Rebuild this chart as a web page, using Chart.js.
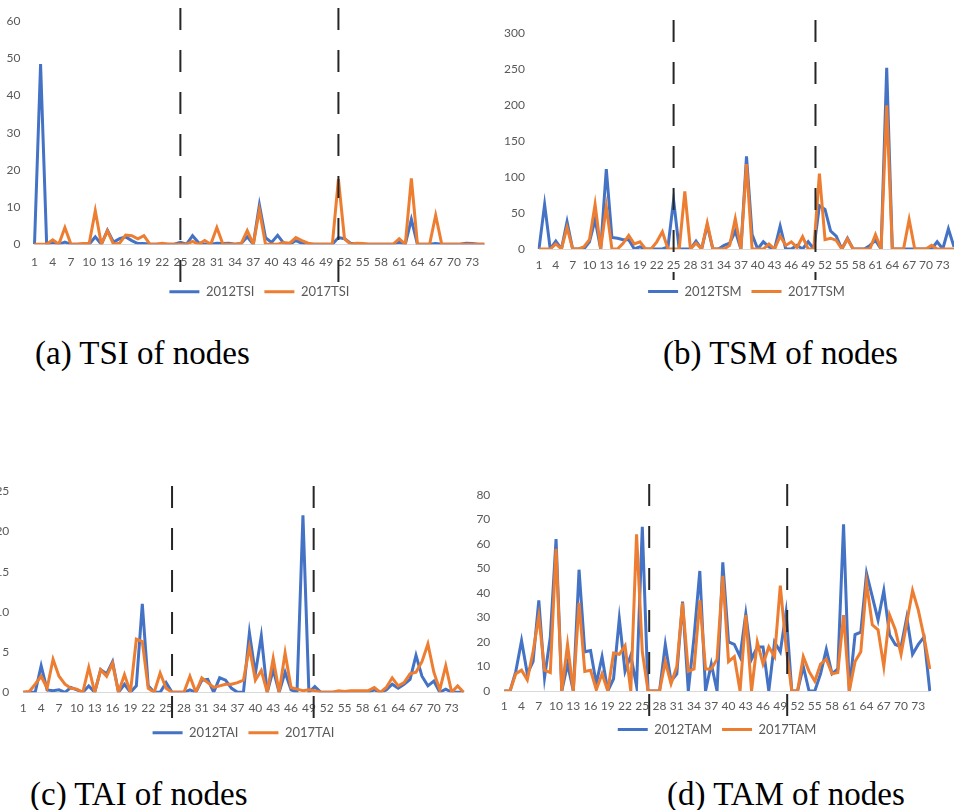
<!DOCTYPE html>
<html><head><meta charset="utf-8">
<script src="https://cdn.jsdelivr.net/npm/chart.js@4.4.0/dist/chart.umd.min.js"></script>
<style>
html,body{margin:0;padding:0;background:#fff;overflow:hidden;width:954px;height:810px;}
.cv{position:absolute;}
.cap{position:absolute;font-family:'Liberation Serif','Times New Roman',serif;font-size:33px;line-height:33px;color:#000;white-space:nowrap;}
</style></head><body>
<canvas id="cA" class="cv"></canvas>
<canvas id="cB" class="cv"></canvas>
<canvas id="cC" class="cv"></canvas>
<canvas id="cD" class="cv"></canvas>
<div class="cap" style="left:35px;top:337px">(a) TSI of nodes</div>
<div class="cap" style="left:663px;top:337px">(b) TSM of nodes</div>
<div class="cap" style="left:30px;top:778px">(c) TAI of nodes</div>
<div class="cap" style="left:667px;top:778px">(d) TAM of nodes</div>
<script>
const categories = ['1','2','3','4','5','6','7','8','9','10','11','12','13','14','15','16','17','18','19','20','21','22','23','24','25','26','27','28','29','30','31','32','33','34','35','36','37','38','39','40','41','42','43','44','45','46','47','48','49','50','51','52','53','54','55','56','57','58','59','60','61','62','63','64','65','66','67','68','69','70','71','72','73','74','75'];

const tsi2012 = [0,48.5,0,0.5,0,0.6,0,0,0,0, 2,0,3.8,0.6,1.5,2,1,0.2,0.2,0, 0,0,0,0,0.5,0,2.3,0.4,0,0, 0.3,0.2,0.3,0,0.2,2,0,10.6,1.8,0.5, 2.4,0.3,0,1,0.3,0,0,0,0,0, 1.8,1.5,0.3,0,0,0,0,0,0,0, 0.5,0,6.7,0,0,0,0.2,0,0,0, 0,0.3,0.2,0,0];
const tsi2017 = [0,0,0,1.2,0,4.5,0,0,0.2,0.2, 9,0,3.6,0,0.3,2.5,2.3,1.5,2.3,0, 0,0.3,0,0,0,0,0.8,0,1,0, 4.5,0,0,0,0.2,3.7,0,9.2,0,0, 0,0.5,0.3,1.8,1,0.3,0,0,0,0, 17.5,1.5,0,0.3,0.2,0,0,0,0,0, 1.5,0,17.7,0,0,0,7.8,0,0,0, 0,0,0,0,0];

const tsm2012 = [0,62,0,11,0,38,0,0,0,10, 41,0,111,16,15,13,13,0,3,0, 0,0,0,3,68,0,0,0,11,0, 33,0,0,5,8,25,0,129,20,0, 10,3,0,32,0,0,5,0,10,0, 60,55,25,18,0,15,0,0,0,5, 12,0,252,0,0,0,0,0,0,0, 0,10,0,28,3];
const tsm2017 = [0,0,0,7,0,30,0,0,3,13, 62,0,59,0,0,8,19,7,10,0, 0,10,24,0,0,0,80,0,8,0, 36,0,0,0,5,42,0,118,0,0, 0,7,0,18,5,10,2,17,0,0, 105,13,15,12,0,14,0,0,0,0, 20,0,200,0,0,0,41,0,0,0, 5,0,0,0,0];

const tai2012 = [0,0,0,3.3,0.3,0.2,0.3,0,0.6,0.3, 0,0.8,0,2.8,2.3,3.8,0,1,0,0.8, 11,0.8,0,0,1.2,0,0,0,0.3,0, 1.5,1.6,0,1.8,1.5,0.5,0,0,7.4,2.3, 7,0,2.8,0,2.5,0.3,0,22,0,0.7, 0,0,0,0,0,0,0,0,0,0.3, 0,0.3,1,0.5,1,1.6,4.6,2,0.8,1.4, 0,0.4,0,0,0];
const tai2017 = [0,0.1,1,2,0.5,4.1,2,1,0.5,0.4, 0,3.1,0,2.8,2,3.6,0,2.2,0,6.6, 6.3,0.5,0,2.4,0.5,0,0,0,2,0, 1.8,1.2,0.6,0.8,1,1,1.2,1.5,5.6,1.5, 2.7,0,4.2,0,4.9,0.6,0.4,0.2,0.3,0.2, 0,0,0,0.2,0.1,0.2,0.2,0.2,0.2,0.6, 0,0.6,1.8,0.8,1.2,2.3,2.5,3.8,6,2.5, 0.3,3.3,0,0.8,0];

const tam2012 = [0,0,8,20.5,7,12,37,5.5,22,62, 0,11,0,49.5,16,16.5,3,14,0,5, 29.5,8,14.5,2,67,0,0,0,19,4, 7,36.5,0,22,49,0,11,0,52.5,20, 19,14,31.5,13,18,18,0,20,16,32, 0,0,10,0,0,7,17,7,9,68, 0,23,24,48,38.5,29,41,23,19,18, 30,15,19,22,0];
const tam2017 = [0,0,7,8.5,4.5,16,30.5,8.5,7.5,58, 0,19,0,36,8,8.5,0.5,7,0,15.5, 15,18.5,0,64,16,0,0,0,12,3, 10,36,8,9,37,9,9,13,47,12, 14,0,31,0,20,11,18,14,43,18, 0,0,14,8,4,11,13,7,7.5,31, 0,12,16,44,27,25,10,31,25,15, 28,41,33,22,9];

const seriesNamesA = ['2012TSI','2017TSI'];
const seriesNamesB = ['2012TSM','2017TSM'];
const seriesNamesC = ['2012TAI','2017TAI'];
const seriesNamesD = ['2012TAM','2017TAM'];

const BLUE = '#4472C4', ORANGE = '#ED7D31', TXT = '#595959';
Chart.defaults.font.family = "Lato, 'Liberation Sans', sans-serif";
Chart.defaults.font.size = 12;
Chart.defaults.color = TXT;

const vlinePlugin = {
  id: 'vlines',
  afterDraw(chart, args, opts) {
    const xs = chart.scales.x, ctx = chart.ctx;
    ctx.save();
    ctx.strokeStyle = '#262626'; ctx.lineWidth = 2; ctx.setLineDash([22, 20]);
    opts.at.forEach(p => {
      const i0 = Math.floor(p) - 1, f = p - Math.floor(p);
      const x0 = xs.getPixelForValue(i0), x1 = xs.getPixelForValue(i0 + 1);
      const px = x0 + f * (x1 - x0);
      ctx.beginPath(); ctx.moveTo(px, opts.y0); ctx.lineTo(px, opts.y1); ctx.stroke();
    });
    ctx.restore();
  }
};

function makeChart(id, cfg) {
  const legFont = 13;
  const legH = legFont + 10 + 10;
  const padTop = cfg.area.t - cfg.top;
  const height = Math.ceil(padTop + (cfg.area.b - cfg.area.t) + cfg.xH + legH + 2);
  const padBottom = height - (padTop + (cfg.area.b - cfg.area.t) + cfg.xH + legH);
  const cv = document.getElementById(id);
  cv.width = cfg.width; cv.height = height;
  cv.style.left = cfg.left + 'px'; cv.style.top = cfg.top + 'px';
  cv.style.width = cfg.width + 'px'; cv.style.height = height + 'px';
  const yW = cfg.area.l - cfg.left;
  const padRight = cfg.left + cfg.width - cfg.area.r;
  new Chart(cv, {
    type: 'line',
    data: {
      labels: categories,
      datasets: [
        {label: cfg.names[0], data: cfg.series[0], borderColor: BLUE, backgroundColor: BLUE, borderWidth: 3, order: 1},
        {label: cfg.names[1], data: cfg.series[1], borderColor: ORANGE, backgroundColor: ORANGE, borderWidth: 3, order: 0}
      ]
    },
    options: {
      responsive: false, animation: false, devicePixelRatio: 1,
      layout: {padding: {top: padTop, left: 0, right: padRight, bottom: padBottom}},
      elements: {point: {radius: 0, hoverRadius: 0}, line: {borderWidth: 3, tension: 0}},
      plugins: {
        legend: {
          position: 'bottom', fullSize: false,
          labels: {usePointStyle: true, pointStyle: 'line', pointStyleWidth: 30, padding: 10, color: TXT,
                   font: {size: legFont}, sort: (a, b) => a.datasetIndex - b.datasetIndex}
        },
        tooltip: {enabled: false},
        vlines: {at: cfg.dashes, y0: cfg.dashY[0] - cfg.top, y1: cfg.dashY[1] - cfg.top}
      },
      scales: {
        x: {
          grid: {display: false, drawTicks: false},
          border: {display: true, color: '#d9d9d9', width: 1},
          ticks: {autoSkip: false, maxRotation: 0, minRotation: 0, padding: cfg.xPad, color: TXT, font: {size: 12},
                  callback: function (v, i) { return i % 3 === 0 ? this.getLabelForValue(v) : ''; }},
          afterFit: s => { s.height = cfg.xH; }
        },
        y: {
          min: 0, max: cfg.max,
          grid: {display: false, drawTicks: false},
          border: {display: false},
          ticks: {stepSize: cfg.step, padding: 14, color: TXT, font: {size: 12}},
          afterFit: s => { s.width = yW; }
        }
      }
    },
    plugins: [vlinePlugin]
  });
}

makeChart('cA', {left: 0, top: 0, width: 500, area: {l: 34.5, r: 484.3, t: 11.7, b: 244.3}, xH: 31, xPad: 10.5,
  max: 60, step: 10, dashes: [25, 51], dashY: [8, 282], names: seriesNamesA, series: [tsi2012, tsi2017]});
makeChart('cB', {left: 500, top: 0, width: 470, area: {l: 539, r: 954, t: 33.3, b: 249}, xH: 26, xPad: 9,
  max: 300, step: 50, dashes: [25, 50.3], dashY: [20, 280], names: seriesNamesB, series: [tsm2012, tsm2017]});
makeChart('cC', {left: -20, top: 470, width: 500, area: {l: 23.3, r: 463.6, t: 484, b: 692.3}, xH: 24, xPad: 8.5,
  max: 25, step: 5, dashes: [26, 49.8], dashY: [486, 736], names: seriesNamesC, series: [tai2012, tai2017]});
makeChart('cD', {left: 470, top: 470, width: 480, area: {l: 504.3, r: 929.8, t: 495, b: 691}, xH: 22, xPad: 7.5,
  max: 80, step: 10, dashes: [26.2, 50.2], dashY: [484, 726], names: seriesNamesD, series: [tam2012, tam2017]});
</script>
</body></html>
